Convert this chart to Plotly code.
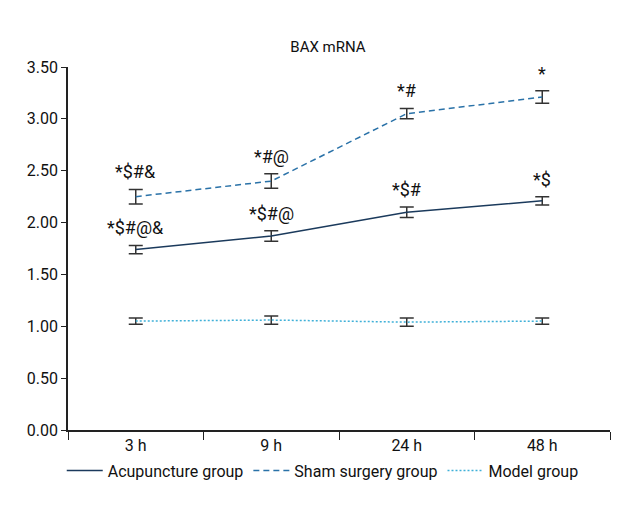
import plotly.graph_objects as go

categories = ["3 h", "9 h", "24 h", "48 h"]
acu_vals = [1.74, 1.87, 2.10, 2.21]
acu_err = [0.04, 0.05, 0.05, 0.04]
sham_vals = [2.25, 2.40, 3.05, 3.21]
sham_err = [0.07, 0.07, 0.05, 0.06]
model_vals = [1.05, 1.06, 1.04, 1.05]
model_err = [0.03, 0.04, 0.04, 0.03]
acu_labels = ["*$#@&", "*$#@", "*$#", "*$"]
sham_labels = ["*$#&", "*#@", "*#", "*"]
y_ticks = [0, 0.5, 1.0, 1.5, 2.0, 2.5, 3.0, 3.5]

FONT = "Roboto, Liberation Sans, sans-serif"
ERR_COLOR = "#333333"

fig = go.Figure()

def add_series(name, vals, errs, color, dash, width):
    fig.add_trace(go.Scatter(
        x=categories, y=vals, name=name, mode="lines",
        line=dict(color=color, dash=dash, width=width),
        error_y=dict(type="data", array=errs, visible=True,
                     color=ERR_COLOR, thickness=1.5, width=7),
    ))

add_series("Acupuncture group", acu_vals, acu_err, "#1b3a5c", "solid", 1.5)
add_series("Sham surgery group", sham_vals, sham_err, "#2a72a8", "6px,4px", 1.5)
add_series("Model group", model_vals, model_err, "#3fb0d8", "2px,2px", 1.5)

for cat, v, e, t in zip(categories, acu_vals, acu_err, acu_labels):
    fig.add_annotation(x=cat, y=v + e, text=t, showarrow=False,
                       yanchor="bottom", yshift=5,
                       font=dict(family=FONT, size=18, color="#111111"))
for cat, v, e, t in zip(categories, sham_vals, sham_err, sham_labels):
    fig.add_annotation(x=cat, y=v + e, text=t, showarrow=False,
                       yanchor="bottom", yshift=5,
                       font=dict(family=FONT, size=18, color="#111111"))

fig.update_layout(
    width=640, height=520,
    margin=dict(l=60, r=38, t=59, b=98),
    paper_bgcolor="white", plot_bgcolor="white",
    font=dict(family=FONT, size=16, color="#111111"),
    title=dict(text="BAX mRNA", x=0.5, xanchor="center", y=0.925, yanchor="middle",
               font=dict(family=FONT, size=15, color="#111111")),
    showlegend=True,
    legend=dict(orientation="h", x=0.47, xanchor="center", y=-0.065, yanchor="top",
                font=dict(family=FONT, size=16), itemwidth=36, tracegroupgap=0),
    xaxis=dict(type="category", range=[-0.5, 3.5], showline=True,
               linecolor="#222222", linewidth=1.5, ticks="outside",
               tickson="boundaries", ticklen=8, tickwidth=1.2, tickcolor="#222222",
               showgrid=False, zeroline=False),
    yaxis=dict(range=[0, 3.5], tickvals=y_ticks, tickformat=".2f",
               showline=True, linecolor="#222222", linewidth=1.5,
               ticks="outside", ticklen=5, tickwidth=1.2, tickcolor="#222222",
               showgrid=False, zeroline=False),
)

fig.write_html("out.html")
